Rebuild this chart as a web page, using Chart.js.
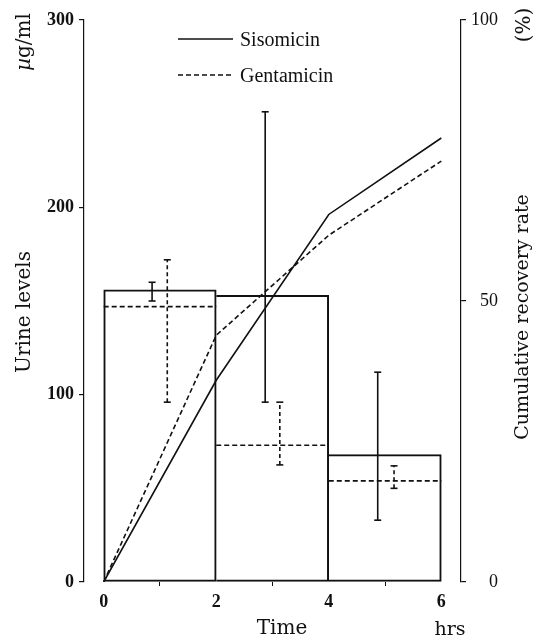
<!DOCTYPE html>
<html>
<head>
<meta charset="utf-8">
<script src="https://cdn.jsdelivr.net/npm/chart.js@4"></script>
<style>
  html, body { margin: 0; padding: 0; background: #fff; }
  #wrap { width: 544px; height: 640px; }
</style>
</head>
<body>
<div id="wrap"><canvas id="chart" width="544" height="640"></canvas></div>
<script>
// Collection intervals (hrs)
const intervalStart = [0, 2, 4];
const intervalEnd = [2, 4, 6];

// Mean urine levels per interval (µg/ml)
const sisoUrine = [156, 153, 68];
const gentaUrine = [147, 73, 54];

// Range bars for urine levels (µg/ml)
const sisoErrX = [0.86, 2.87, 4.87];
const sisoErrLow = [150, 96, 33];
const sisoErrHigh = [160, 251, 112];
const gentaErrX = [1.13, 3.13, 5.16];
const gentaErrLow = [96, 62.5, 50];
const gentaErrHigh = [172, 96, 62];

// Cumulative recovery rate (%)
const timePoints = [0, 2, 4, 6];
const sisoRecovery = [0, 35.9, 65.4, 79.0];
const gentaRecovery = [0, 43.9, 61.7, 74.9];

// Tick values
const timeTicks = [0, 2, 4, 6];
const urineTicks = [0, 100, 200, 300];
const recoveryTicks = [0, 50, 100];

const INK = '#111';
const LW = 1.6;
const DASH = [5, 3];

// Dashed tops of the gentamicin interval bars, one segment per interval
const gentaTops = [];
intervalStart.forEach((s, i) => {
  gentaTops.push({ x: s, y: gentaUrine[i] }, { x: intervalEnd[i], y: gentaUrine[i] }, { x: intervalEnd[i], y: null });
});

// Vertical range bars, one segment per interval
function rangeSegments(xs, lows, highs) {
  const pts = [];
  xs.forEach((x, i) => {
    pts.push({ x: x, y: lows[i] }, { x: x, y: highs[i] }, { x: x, y: null });
  });
  return pts;
}

const tickFont = { family: 'Liberation Serif', size: 18, weight: 'bold' };

const titles = {
  id: 'axisTitles',
  afterDraw(chart) {
    const ctx = chart.ctx;
    ctx.save();
    ctx.fillStyle = INK;
    const vtext = (txt, x, y, font) => {
      ctx.save();
      ctx.translate(x, y);
      ctx.rotate(-Math.PI / 2);
      ctx.font = font;
      ctx.textAlign = 'center';
      ctx.textBaseline = 'middle';
      ctx.fillText(txt, 0, 0);
      ctx.restore();
    };
    // left axis: unit and title
    ctx.save();
    ctx.translate(25, 42);
    ctx.rotate(-Math.PI / 2);
    ctx.textBaseline = 'middle';
    ctx.font = 'italic 20px "DejaVu Serif"';
    const muW = ctx.measureText('\u00b5').width;
    ctx.font = '20px "DejaVu Serif"';
    const restW = ctx.measureText('g/ml').width;
    const startX = -(muW + restW) / 2;
    ctx.textAlign = 'left';
    ctx.font = 'italic 20px "DejaVu Serif"';
    ctx.fillText('\u00b5', startX, 0);
    ctx.font = '20px "DejaVu Serif"';
    ctx.fillText('g/ml', startX + muW, 0);
    ctx.restore();
    vtext('Urine levels', 25, 312, '20px "DejaVu Serif"');
    // right axis: unit and title
    vtext('(%)', 525, 25, '20px "DejaVu Serif"');
    vtext('Cumulative recovery rate', 523, 317, '19px "DejaVu Serif"');
    // x axis
    ctx.font = '20px "DejaVu Serif"';
    ctx.textAlign = 'center';
    ctx.textBaseline = 'alphabetic';
    ctx.fillText('Time', 282, 634);
    ctx.font = '19px "DejaVu Serif"';
    ctx.fillText('hrs', 450, 635);

    // legend
    const items = [
      { label: chart.data.datasets[2].label, dash: chart.data.datasets[2].borderDash || [], y: 39 },
      { label: chart.data.datasets[3].label, dash: chart.data.datasets[3].borderDash || [], y: 75 }
    ];
    items.forEach(it => {
      ctx.save();
      ctx.strokeStyle = INK;
      ctx.lineWidth = LW;
      ctx.setLineDash(it.dash);
      ctx.beginPath();
      ctx.moveTo(178, it.y);
      ctx.lineTo(233, it.y);
      ctx.stroke();
      ctx.restore();
      ctx.font = '20px "Liberation Serif"';
      ctx.textAlign = 'left';
      ctx.textBaseline = 'middle';
      ctx.fillText(it.label, 240, it.y + 2);
    });
    ctx.restore();
  }
};

new Chart(document.getElementById('chart'), {
  type: 'bar',
  data: {
    datasets: [
      {
        type: 'bar',
        label: 'Sisomicin urine',
        data: intervalStart.map((s, i) => ({ x: (s + intervalEnd[i]) / 2, y: sisoUrine[i] })),
        backgroundColor: 'rgba(0,0,0,0)',
        borderColor: INK,
        borderWidth: 1.4,
        borderSkipped: c => (c.dataIndex > 0 ? 'left' : false),
        barPercentage: 1,
        categoryPercentage: 1,
        grouped: false,
        yAxisID: 'y',
        order: 5
      },
      {
        type: 'line',
        label: 'Gentamicin urine',
        data: gentaTops,
        borderColor: INK,
        borderWidth: LW,
        borderDash: DASH,
        pointRadius: 0,
        spanGaps: false,
        yAxisID: 'y',
        order: 4
      },
      {
        type: 'line',
        label: 'Sisomicin',
        data: timePoints.map((t, i) => ({ x: t, y: sisoRecovery[i] })),
        borderColor: INK,
        borderWidth: LW,
        pointRadius: 0,
        tension: 0,
        yAxisID: 'y2',
        order: 1
      },
      {
        type: 'line',
        label: 'Gentamicin',
        data: timePoints.map((t, i) => ({ x: t, y: gentaRecovery[i] })),
        borderColor: INK,
        borderWidth: LW,
        borderDash: DASH,
        pointRadius: 0,
        tension: 0,
        yAxisID: 'y2',
        order: 2
      },
      {
        type: 'line',
        label: 'Sisomicin range',
        data: rangeSegments(sisoErrX, sisoErrLow, sisoErrHigh),
        borderColor: INK,
        borderWidth: LW,
        pointStyle: 'line',
        pointRadius: 3.5,
        pointBorderWidth: LW,
        pointBorderColor: INK,
        spanGaps: false,
        yAxisID: 'y',
        order: 3
      },
      {
        type: 'line',
        label: 'Gentamicin range',
        data: rangeSegments(gentaErrX, gentaErrLow, gentaErrHigh),
        borderColor: INK,
        borderWidth: LW,
        borderDash: [4, 3],
        pointStyle: 'line',
        pointRadius: 3.5,
        pointBorderWidth: LW,
        pointBorderColor: INK,
        spanGaps: false,
        yAxisID: 'y',
        order: 3
      }
    ]
  },
  options: {
    responsive: false,
    animation: false,
    events: [],
    layout: { padding: { top: 20, left: 0, right: 46, bottom: 0 } },
    plugins: { legend: { display: false }, tooltip: { enabled: false } },
    scales: {
      x: {
        type: 'linear',
        position: 'bottom',
        min: -0.35,
        max: 6.35,
        offset: false,
        afterBuildTicks: s => { s.ticks = timeTicks.map(v => ({ value: v })); },
        afterFit: s => { s.height = 58; },
        border: { display: false },
        grid: { display: true, drawOnChartArea: false, tickLength: 4, color: INK, lineWidth: 1 },
        ticks: { color: INK, font: tickFont, padding: 6, maxRotation: 0 }
      },
      y: {
        type: 'linear',
        position: 'left',
        min: 0,
        max: 300,
        afterBuildTicks: s => { s.ticks = urineTicks.map(v => ({ value: v })); },
        afterFit: s => { s.width = 84; },
        border: { display: true, color: INK, width: 1.2 },
        grid: { display: true, drawOnChartArea: false, tickLength: 5, color: INK, lineWidth: 1.2 },
        ticks: { color: INK, font: tickFont, padding: 5 }
      },
      y2: {
        type: 'linear',
        position: 'right',
        min: 0,
        max: 100,
        afterBuildTicks: s => { s.ticks = recoveryTicks.map(v => ({ value: v })); },
        afterFit: s => { s.width = 37; },
        border: { display: true, color: INK, width: 1.2 },
        grid: { display: true, drawOnChartArea: false, tickLength: 5, color: INK, lineWidth: 1.2 },
        ticks: { color: INK, font: { family: 'Liberation Serif', size: 18 }, padding: 6, crossAlign: 'far' }
      }
    }
  },
  plugins: [titles]
});
</script>
</body>
</html>
